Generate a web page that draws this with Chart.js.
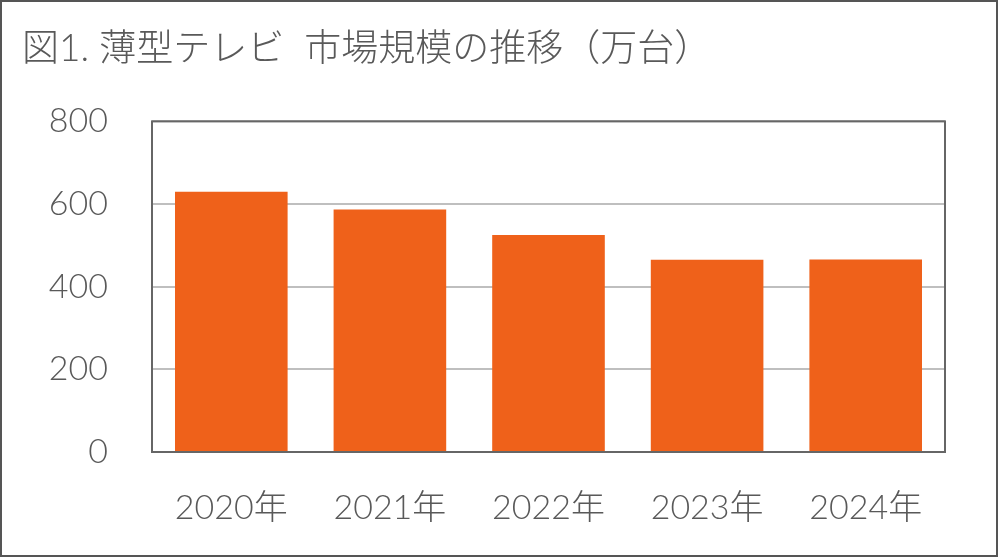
<!DOCTYPE html>
<html>
<head>
<meta charset="utf-8">
<script src="https://cdn.jsdelivr.net/npm/chart.js@4"></script>
<style>
html,body{margin:0;padding:0;background:#fff;}
#wrap{position:relative;width:998px;height:557px;}
</style>
</head>
<body>
<div id="wrap"><canvas id="c" width="998" height="557"></canvas></div>
<script>
const categories = ['2020年','2021年','2022年','2023年','2024年'];
const values = [630, 587, 525, 465, 466];
const yTicks = [0, 200, 400, 600, 800];
const titleText = '図1. 薄型テレビ  市場規模の推移（万台）';

const FONT = "Lato, 'Noto Sans CJK JP', sans-serif";
const TXT = '#595959';

const frame = {
  id: 'frame',
  beforeDraw(chart) {
    const c = chart.ctx;
    c.save();
    c.fillStyle = '#fff';
    c.fillRect(0, 0, chart.width, chart.height);
    c.restore();
  },
  afterDraw(chart) {
    const c = chart.ctx;
    const a = chart.chartArea;
    c.save();
    c.strokeStyle = '#666666';
    c.lineWidth = 2;
    c.strokeRect(a.left, a.top, a.right - a.left, a.bottom - a.top);
    c.strokeStyle = '#555555';
    c.lineWidth = 2;
    c.strokeRect(1, 1, chart.width - 2, chart.height - 2);
    c.restore();
  }
};

new Chart(document.getElementById('c'), {
  type: 'bar',
  data: {
    labels: categories,
    datasets: [{
      data: values,
      backgroundColor: '#EF611A',
      borderWidth: 0,
      barPercentage: 0.71,
      categoryPercentage: 1.0
    }]
  },
  options: {
    responsive: false,
    animation: false,
    devicePixelRatio: 1,
    layout: { padding: { left: 22, right: 53, top: 0, bottom: 28 } },
    plugins: {
      legend: { display: false },
      tooltip: { enabled: false },
      title: {
        display: true,
        text: titleText,
        align: 'start',
        color: TXT,
        font: { family: FONT, size: 37, weight: 300, lineHeight: 1.2 },
        padding: { top: 27, bottom: 50 }
      }
    },
    scales: {
      x: {
        afterFit(scale) { scale.height = 77; },
        grid: { display: false, drawTicks: false },
        border: { display: false },
        ticks: {
          color: TXT,
          padding: 36,
          font: { family: FONT, size: 34, weight: 300, lineHeight: 1.2 }
        }
      },
      y: {
        min: 0,
        max: 800,
        afterBuildTicks(scale) { scale.ticks = yTicks.map(v => ({ value: v })); },
        afterFit(scale) { scale.width = 130; },
        grid: { color: '#BFBFBF', lineWidth: 2, drawTicks: false },
        border: { display: false },
        ticks: {
          color: TXT,
          padding: 44,
          font: { family: FONT, size: 34, weight: 300, lineHeight: 1.2 }
        }
      }
    }
  },
  plugins: [frame]
});
</script>
</body>
</html>
